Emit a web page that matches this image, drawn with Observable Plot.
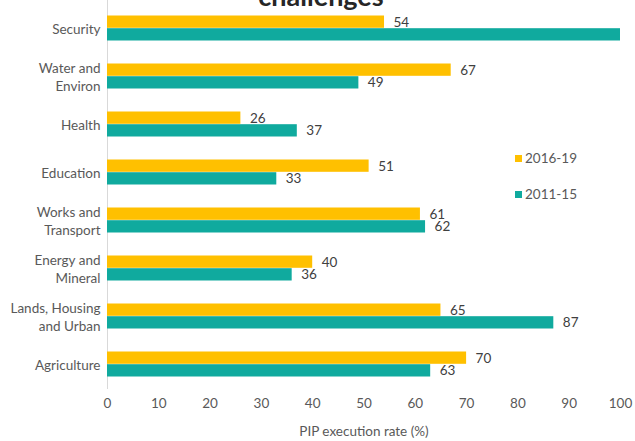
<!DOCTYPE html>
<html>
<head>
<meta charset="utf-8">
<script src="https://cdn.jsdelivr.net/npm/d3@7"></script>
<script src="https://cdn.jsdelivr.net/npm/@observablehq/plot@0.6"></script>
<style>
  html, body { margin: 0; padding: 0; background: #fff; }
  #wrap { position: relative; width: 635px; height: 441px; overflow: hidden; font-family: Lato, sans-serif; }
  #title { position: absolute; left: 0; width: 642px; top: -18px; text-align: center; font-size: 27px; line-height: 27px; font-weight: bold; color: #262626; }
  .leg { position: absolute; left: 515px; font-size: 13.5px; color: #595959; display: flex; align-items: center; }
  .sw { width: 7px; height: 7px; margin-right: 3px; display: inline-block; }
</style>
</head>
<body>
<div id="wrap">
  <div id="chart"></div>
  <div id="title">challenges</div>
  <div id="legend"></div>
</div>
<script>
const categories = ["Security", "Water and Environ", "Health", "Education", "Works and Transport", "Energy and Mineral", "Lands, Housing and Urban", "Agriculture"];
const categoryLabels = ["Security", "Water and\nEnviron", "Health", "Education", "Works and\nTransport", "Energy and\nMineral", "Lands, Housing\nand Urban", "Agriculture"];
const seriesNames = ["2016-19", "2011-15"];
const values2016 = [54, 67, 26, 51, 61, 40, 65, 70];
const values2011 = [100, 49, 37, 33, 62, 36, 87, 63];
const xTicks = [0, 10, 20, 30, 40, 50, 60, 70, 80, 90, 100];
const colors = ["#FFC000", "#10AA9E"];

const rows = categories.map((c, i) => ({category: c, v16: values2016[i], v11: values2011[i]}));
const labelOf = new Map(categories.map((c, i) => [c, categoryLabels[i]]));
const xMax = 100;

const chart = Plot.plot({
  width: 635,
  height: 441,
  marginTop: 2,
  marginLeft: 107,
  marginRight: 15,
  marginBottom: 52,
  style: {fontFamily: "Lato, sans-serif", fontSize: "13.5px", color: "#595959", background: "white"},
  x: {domain: [0, xMax]},
  y: {domain: categories, padding: 0},
  marks: [
    Plot.ruleX([0], {stroke: "#d9d9d9", strokeWidth: 1, insetTop: -2}),
    Plot.barX(rows, {x: "v16", y: "category", fill: colors[0], insetTop: 11.5, insetBottom: 24.2}),
    Plot.barX(rows, {x: "v11", y: "category", fill: colors[1], insetTop: 24.2, insetBottom: 11.5}),
    Plot.text(rows.filter(d => d.v16 < xMax), {x: "v16", y: "category", text: d => String(d.v16), dx: 9, dy: -6.3, textAnchor: "start", fill: "#404040", fontSize: 13.5}),
    Plot.text(rows.filter(d => d.v11 < xMax), {x: "v11", y: "category", text: d => String(d.v11), dx: 9, dy: 6.3, textAnchor: "start", fill: "#404040", fontSize: 13.5}),
    Plot.axisY({tickSize: 0, tickPadding: 7, label: null, tickFormat: d => labelOf.get(d), lineHeight: 1.33, fill: "#595959", fontSize: 13.5}),
    Plot.axisX({ticks: xTicks, tickSize: 0, tickPadding: 9, tickFormat: d => String(d), label: null, fill: "#595959", fontSize: 13.5}),
    Plot.text(["PIP execution rate (%)"], {frameAnchor: "bottom", dy: 46, text: d => d, fill: "#595959", fontSize: 13.5})
  ]
});
document.getElementById("chart").appendChild(chart);

const legend = document.getElementById("legend");
const legendTops = [150, 186];
seriesNames.forEach((name, i) => {
  const el = document.createElement("div");
  el.className = "leg";
  el.style.top = legendTops[i] + "px";
  el.innerHTML = `<span class="sw" style="background:${colors[i]}"></span>${name}`;
  legend.appendChild(el);
});
</script>
</body>
</html>
